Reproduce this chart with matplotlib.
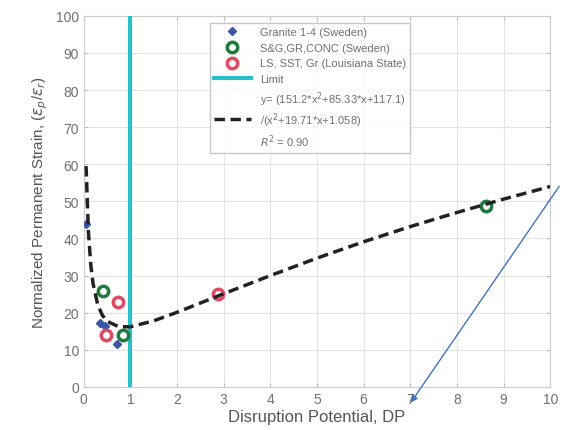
import matplotlib.pyplot as plt

plt.rcParams['font.family'] = ['Liberation Sans', 'DejaVu Sans']

# data
granite_x = [0.05, 0.34, 0.45, 0.71]
granite_y = [44, 17.2, 16.5, 11.6]
sg_x = [0.41, 0.84, 8.63]
sg_y = [25.9, 14.0, 48.8]
ls_x = [0.47, 0.73, 2.88]
ls_y = [14.0, 22.9, 25.0]
limit_x = 1.0

fit_x = [0.05, 0.1, 0.15, 0.2, 0.3, 0.4, 0.5, 0.75, 1, 1.5, 2, 2.5, 3, 4, 5, 6, 7, 8, 9, 10]
fit_y = [59.5, 41.8, 33.0, 27.8, 22.1, 19.3, 17.7, 16.2, 16.2, 17.8, 20.1, 22.6, 25.1,
         30.0, 34.7, 39.1, 43.2, 47.0, 50.6, 54.0]

xticks = list(range(0, 11))
yticks = list(range(0, 101, 10))

fig = plt.figure(figsize=(5.62, 4.31), dpi=100)
ax = fig.add_axes([0.149, 0.100, 0.830, 0.861])

txt = '#555555'
ax.plot(granite_x, granite_y, 'D', color='#3b55a8', ms=4.5, ls='none',
        label='Granite 1-4 (Sweden)', zorder=4)
ax.plot(sg_x, sg_y, 'o', mfc='none', mec='#1f7a3c', mew=2.5, ms=7.5, ls='none',
        label='S&G,GR,CONC (Sweden)', zorder=4)
ax.plot(ls_x, ls_y, 'o', mfc='none', mec='#e04a62', mew=2.5, ms=7.5, ls='none',
        label='LS, SST, Gr (Louisiana State)', zorder=4)
ax.axvline(limit_x, color='#2bbfcc', lw=3, label='Limit', zorder=3)
ax.plot(fit_x, fit_y, color='#222222', lw=2.5, ls=(0, (3, 1.6)),
        label='y= (151.2*x$^2$+85.33*x+117.1)\n/(x$^2$+19.71*x+1.058)\n$R^2$ = 0.90', zorder=5)

ax.set_xlim(0, 10)
ax.set_ylim(0, 100)
ax.set_xticks(xticks)
ax.set_yticks(yticks)
ax.grid(True, color='#e4e4e4', lw=0.8)
ax.set_axisbelow(True)
ax.tick_params(direction='in', top=True, right=True, labelsize=10,
               colors='#bbbbbb', labelcolor='#707070', length=3)
for s in ax.spines.values():
    s.set_color('#cccccc')

ax.set_xlabel('Disruption Potential, DP', fontsize=12, color=txt, labelpad=2)
ax.set_ylabel(r'Normalized Permanent Strain, ($\varepsilon_p$/$\varepsilon_r$)',
              fontsize=11, color=txt, labelpad=4)

leg = ax.legend(loc='upper left', bbox_to_anchor=(0.27, 0.981), borderaxespad=0,
                fontsize=8, handlelength=3.3, frameon=True, fancybox=False,
                edgecolor='#bbbbbb', labelspacing=0.5)
for t in leg.get_texts():
    t.set_color('#707070')

fig.patches.append(plt.matplotlib.patches.FancyArrowPatch(
    (0.998, 0.571), (0.728, 0.058), transform=fig.transFigure,
    arrowstyle='-|>', mutation_scale=10, color='#4472c4', lw=1))

fig.savefig('out.png', dpi=100)
